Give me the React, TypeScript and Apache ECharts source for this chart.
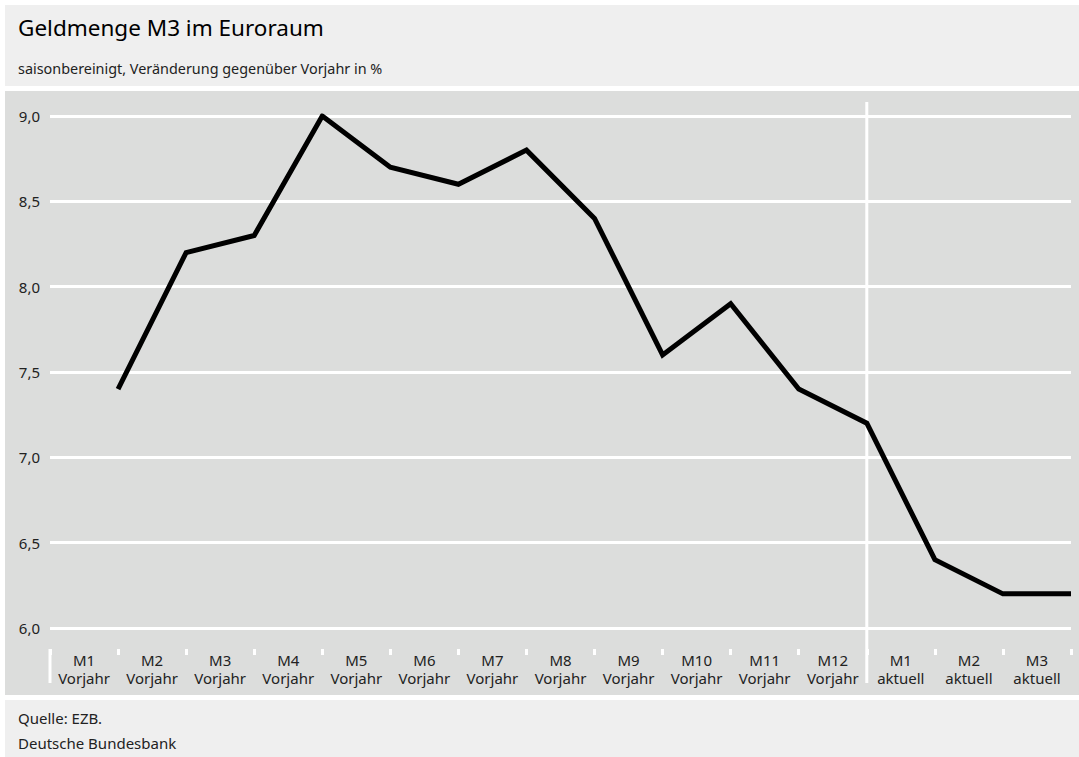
import React, { useEffect, useRef } from "react";
import * as echarts from "echarts";

const categories = [
  "M1\nVorjahr", "M2\nVorjahr", "M3\nVorjahr", "M4\nVorjahr", "M5\nVorjahr",
  "M6\nVorjahr", "M7\nVorjahr", "M8\nVorjahr", "M9\nVorjahr", "M10\nVorjahr",
  "M11\nVorjahr", "M12\nVorjahr", "M1\naktuell", "M2\naktuell", "M3\naktuell",
];
const values = [7.4, 8.2, 8.3, 9.0, 8.7, 8.6, 8.8, 8.4, 7.6, 7.9, 7.4, 7.2, 6.4, 6.2, 6.2];
const yTicks = [6.0, 6.5, 7.0, 7.5, 8.0, 8.5, 9.0];
const separatorAfter = 12; // boundary between "Vorjahr" and "aktuell"

const titleText = "Geldmenge M3 im Euroraum";
const subtitleText = "saisonbereinigt, Veränderung gegenüber Vorjahr in %";
const sourceText = "Quelle: EZB.";
const publisherText = "Deutsche Bundesbank";

const FONT = "'Noto Sans', 'Open Sans', sans-serif";

export default function App() {
  const ref = useRef<HTMLDivElement>(null);
  useEffect(() => {
    if (!ref.current) return;
    const chart = echarts.init(ref.current, undefined, { renderer: "svg" });
    const W = 1079;
    const panels = [
      { type: "rect", shape: { x: 5, y: 5, width: W - 5, height: 81 }, style: { fill: "#efefef" }, z: -10 },
      { type: "rect", shape: { x: 5, y: 91, width: W - 5, height: 604 }, style: { fill: "#dcdddc" }, z: -10 },
      { type: "rect", shape: { x: 5, y: 700, width: W - 5, height: 57 }, style: { fill: "#efefef" }, z: -10 },
      { type: "text", x: 18, y: 718, style: { text: sourceText, font: `15px ${FONT}`, fill: "#222", verticalAlign: "middle" } },
      { type: "text", x: 18, y: 743, style: { text: publisherText, font: `15px ${FONT}`, fill: "#222", verticalAlign: "middle" } },
    ];
    chart.setOption({
      animation: false,
      backgroundColor: "#ffffff",
      textStyle: { fontFamily: FONT },
      title: [
        { text: titleText, left: 18, top: 16, padding: 0, textStyle: { fontSize: 22.5, fontWeight: "normal", color: "#000", fontFamily: FONT } },
        { text: subtitleText, left: 18, top: 61, padding: 0, textStyle: { fontSize: 14.4, fontWeight: "normal", color: "#222", fontFamily: FONT } },
      ],
      grid: { left: 50, top: 116, width: 1021, height: 512, containLabel: false },
      xAxis: [
        {
          type: "category",
          data: categories,
          boundaryGap: true,
          position: "bottom",
          offset: 21,
          axisLine: { show: false },
          axisTick: { show: true, length: 6, lineStyle: { color: "#ffffff", width: 3 } },
          axisLabel: { color: "#222", fontSize: 15, lineHeight: 18, margin: 2, interval: 0, fontFamily: FONT },
          splitLine: { show: false },
        },
        {
          type: "value",
          min: 0,
          max: categories.length,
          show: false,
          splitLine: { show: false },
        },
      ],
      yAxis: {
        type: "value",
        min: yTicks[0],
        max: yTicks[yTicks.length - 1],
        interval: 0.5,
        axisLine: { show: false },
        axisTick: { show: false },
        axisLabel: {
          color: "#222",
          fontSize: 15,
          margin: 10,
          fontFamily: FONT,
          formatter: (v: number) => v.toFixed(1).replace(".", ","),
        },
        splitLine: { lineStyle: { color: "#ffffff", width: 3 } },
      },
      series: [
        {
          type: "line",
          xAxisIndex: 1,
          data: values.map((v, i) => [i + 1, v]),
          showSymbol: false,
          symbol: "none",
          lineStyle: { color: "#000000", width: 5, join: "miter" },
          z: 5,
        },
      ],
      graphic: panels,
    });
    const xSep = chart.convertToPixel({ xAxisIndex: 1 }, separatorAfter) as number;
    const x0 = chart.convertToPixel({ xAxisIndex: 1 }, 0) as number;
    chart.setOption({
      graphic: [
        ...panels,
        { type: "line", shape: { x1: xSep, y1: 102, x2: xSep, y2: 683 }, style: { stroke: "#ffffff", lineWidth: 3 }, z: 1 },
        { type: "line", shape: { x1: x0, y1: 649, x2: x0, y2: 683 }, style: { stroke: "#ffffff", lineWidth: 3 }, z: 1 },
      ],
    });
    return () => chart.dispose();
  }, []);
  return <div ref={ref} style={{ position: "fixed", left: 0, top: 0, width: 1079, height: 757 }} />;
}
